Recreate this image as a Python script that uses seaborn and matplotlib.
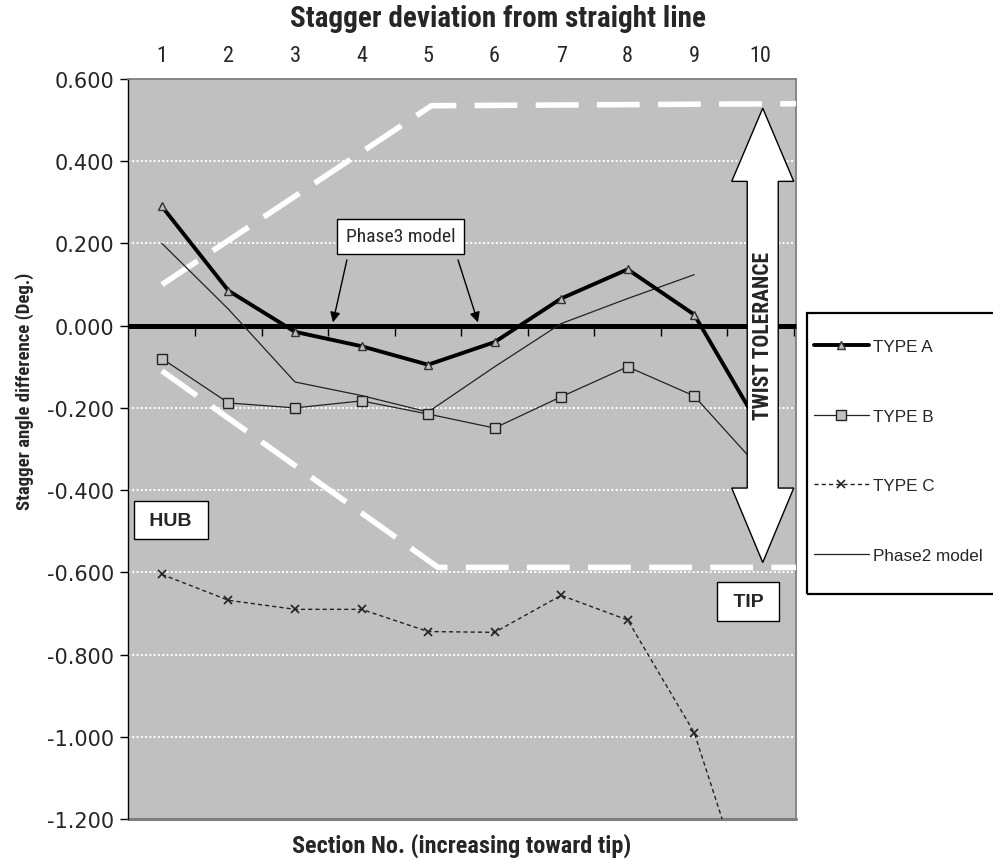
import matplotlib
matplotlib.use("Agg")
import numpy as np
import pandas as pd
import matplotlib.pyplot as plt
import seaborn as sns
from matplotlib import font_manager
from matplotlib.lines import Line2D
from matplotlib.patches import Polygon, Rectangle

# ---- data -------------------------------------------------------------
sections = [1, 2, 3, 4, 5, 6, 7, 8, 9, 10]
section_labels = ["1", "2", "3", "4", "5", "6", "7", "8", "9", "10"]
type_a = [0.290, 0.085, -0.015, -0.050, -0.095, -0.040, 0.066, 0.137, 0.027, -0.250]
type_b = [-0.080, -0.188, -0.200, -0.183, -0.215, -0.249, -0.173, -0.100, -0.171, -0.350]
type_c = [-0.605, -0.668, -0.690, -0.690, -0.744, -0.746, -0.656, -0.716, -0.990, -1.490]
phase2 = [0.200, 0.040, -0.137, -0.170, -0.210, -0.100, 0.005, 0.066, 0.124, np.nan]
series_names = ["TYPE A", "TYPE B", "TYPE C", "Phase2 model"]

y_ticks = [0.6, 0.4, 0.2, 0.0, -0.2, -0.4, -0.6, -0.8, -1.0, -1.2]
grid_levels = [0.4, 0.2, -0.2, -0.4, -0.6, -0.8, -1.0]

# twist tolerance envelope (break points)
tol_upper_x = [1.0, 5.05, 10.6]
tol_upper_y = [0.100, 0.535, 0.540]
tol_lower_x = [1.0, 5.15, 10.6]
tol_lower_y = [-0.110, -0.588, -0.588]

# ---- style ------------------------------------------------------------
sns.set_theme(style="white")
plt.rcParams["axes.unicode_minus"] = False
available = {f.name for f in font_manager.fontManager.ttflist}
NARROW = next((n for n in ["Liberation Sans Narrow", "Roboto Condensed",
                           "Open Sans Condensed"] if n in available),
              "Liberation Sans")
plt.rcParams["font.family"] = ["Liberation Sans", "DejaVu Sans"]

df = pd.DataFrame({"section": sections, "TYPE A": type_a, "TYPE B": type_b,
                   "TYPE C": type_c, "Phase2 model": phase2})

fig = plt.figure(figsize=(9.93, 8.62), dpi=100)
ax = fig.add_axes([128 / 993, 1 - 820 / 862, 668 / 993, 740 / 862])
ax.set_facecolor("#c0c0c0")
ax.set_xlim(0.49, 10.53)
ax.set_ylim(-1.2, 0.6)

for v in grid_levels:
    ax.axhline(v, color="white", lw=1.4, ls=(0, (1.0, 1.2)), zorder=1)

# tolerance envelope
ax.plot(tol_upper_x, tol_upper_y, color="white", lw=4, dashes=(7.7, 3.3), zorder=3)
ax.plot(tol_lower_x, tol_lower_y, color="white", lw=4, dashes=(7.7, 3.3), zorder=3)

# measured series and model
style_a = dict(color="black", lw=2.8, marker="^", ms=6, mfc="#bdbdbd", mec="#333333", mew=1)
style_b = dict(color="#222222", lw=0.9, marker="s", ms=6.5, mfc="#c0c0c0", mec="#222222", mew=1)
style_c = dict(color="#222222", lw=1.0, dashes=(3, 2.2), marker="x", ms=6, mec="#222222", mew=1.2)
style_p = dict(color="#222222", lw=0.9)

sns.lineplot(data=df, x="section", y="TYPE C", ax=ax, zorder=4, **style_c)
sns.lineplot(data=df, x="section", y="Phase2 model", ax=ax, zorder=4, **style_p)
sns.lineplot(data=df, x="section", y="TYPE B", ax=ax, zorder=4, **style_b)
sns.lineplot(data=df, x="section", y="TYPE A", ax=ax, zorder=5, **style_a)

# axes frame: primary category axis crosses at zero
ax.spines["bottom"].set_position(("data", 0))
ax.spines["bottom"].set_linewidth(3.6)
ax.spines["bottom"].set_color("black")
ax.spines["bottom"].set_capstyle("butt")
ax.spines["left"].set_color("black")
ax.spines["left"].set_linewidth(1.0)
for s in ("top", "right"):
    ax.spines[s].set_color("#7f7f7f")
    ax.spines[s].set_linewidth(1.3)
ax.axhline(-1.2, color="#7f7f7f", lw=2.2, clip_on=False, zorder=2)

ax.set_xticks([s + 0.5 for s in sections])
ax.set_xticklabels([])
ax.tick_params(axis="x", direction="out", length=7, width=1, color="black", bottom=True)
ax.set_yticks(y_ticks)
ax.set_yticklabels([f"{v:.3f}" for v in y_ticks], fontsize=15, family="DejaVu Sans")
ax.tick_params(axis="y", direction="out", length=6, width=1, color="black", left=True, pad=4)
ax.set_xlabel("")
ax.set_ylabel("")

secax = ax.secondary_xaxis("top")
secax.set_xticks(sections)
secax.set_xticklabels(section_labels, fontsize=16, family=NARROW)
secax.tick_params(length=0, pad=9)
secax.spines["top"].set_visible(False)

fig.text(498 / 993, 1 - 19 / 862, "Stagger deviation from straight line",
         ha="center", va="center", fontsize=21, fontweight="bold", family=NARROW)
fig.text(462 / 993, 1 - 846 / 862, "Section No. (increasing toward tip)",
         ha="center", va="center", fontsize=17.5, fontweight="bold", family=NARROW)
fig.text(25 / 993, 1 - 391 / 862, "Stagger angle difference (Deg.)", rotation=90,
         ha="center", va="center", fontsize=13.5, fontweight="bold", family=NARROW)

# twist tolerance double arrow
cx, hs, hh = 10.03, 0.233, 0.466
top, tb, bb, bot = 0.529, 0.351, -0.395, -0.576
arrow_pts = [(cx, top), (cx + hh, tb), (cx + hs, tb), (cx + hs, bb), (cx + hh, bb),
             (cx, bot), (cx - hh, bb), (cx - hs, bb), (cx - hs, tb), (cx - hh, tb)]
ax.add_patch(Polygon(arrow_pts, closed=True, fc="white", ec="black", lw=1.0, zorder=6))
ax.text(cx, -0.022, "TWIST TOLERANCE", rotation=90, ha="center", va="center",
        fontsize=15.5, fontweight="bold", family=NARROW, zorder=7)

# labels in boxes
box = dict(boxstyle="square,pad=0.45", fc="white", ec="black", lw=1.0)
ax.text(4.59, 0.217, "Phase3 model", ha="center", va="center", fontsize=14,
        family=NARROW, bbox=box, zorder=7)
for start, end in [((3.78, 0.160), (3.57, 0.008)), ((5.45, 0.160), (5.75, 0.008))]:
    ax.annotate("", xy=end, xytext=start, zorder=7,
                arrowprops=dict(arrowstyle="-|>", color="black", lw=1.0,
                                mutation_scale=15, shrinkA=0, shrinkB=0))
hub_box = dict(boxstyle="square,pad=0.55", fc="white", ec="black", lw=1.0)
ax.text(1.135, -0.473, " HUB ", ha="center", va="center", fontsize=14,
        fontweight="bold", bbox=hub_box, zorder=7)
ax.text(9.81, -0.671, " TIP ", ha="center", va="center", fontsize=14,
        fontweight="bold", bbox=hub_box, zorder=7)

# legend outside the plot area
handles = [Line2D([], [], **style_a), Line2D([], [], **style_b),
           Line2D([], [], **style_c), Line2D([], [], **style_p)]
fig.patches.append(Rectangle((807 / 993, 1 - 595 / 862), 200 / 993, 281 / 862,
                             transform=fig.transFigure, fill=False, ec="black", lw=1.6))
fig.legend(handles, series_names, loc="upper left",
           bbox_to_anchor=(814 / 993, 1 - 340 / 862), frameon=False,
           borderpad=0, borderaxespad=0, handlelength=3.2, handletextpad=0.25,
           labelspacing=3.2, fontsize=12.3, numpoints=1)

fig.savefig("out.png", dpi=100)
